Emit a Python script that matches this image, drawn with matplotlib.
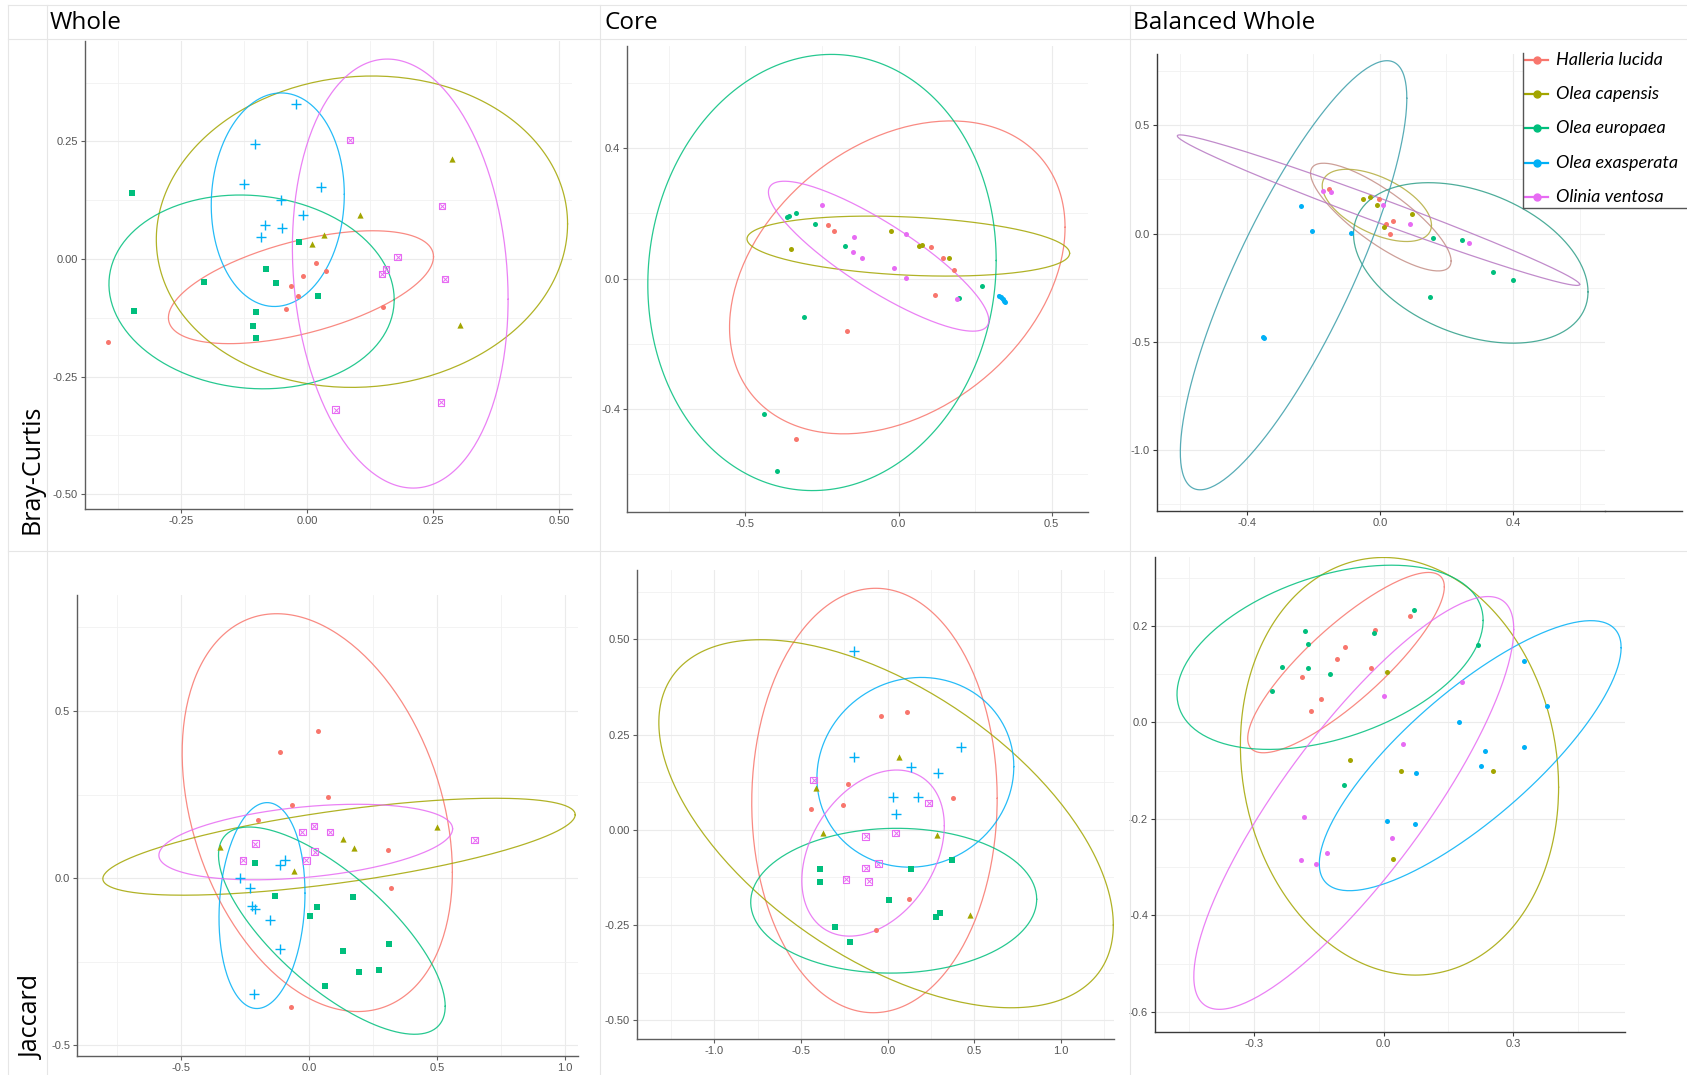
import numpy as np
import matplotlib.pyplot as plt
from matplotlib.lines import Line2D

SPECIES = ['Halleria lucida', 'Olea capensis', 'Olea europaea',
           'Olea exasperata', 'Olinia ventosa']
COLORS = ['#F8766D', '#A3A500', '#00BF7D', '#00B0F6', '#E76BF3']
BAL_ELL_COLORS = ['#C48E86', '#B3AC3C', '#2E9E88', '#3B9EAA', '#B677C2']

# one inner list per species, same order as SPECIES
BC_WHOLE_X = [[-0.394, 0.017, 0.038, -0.007, -0.032, -0.017, -0.041, 0.151],
              [0.287, 0.106, 0.034, 0.009, 0.304],
              [-0.347, -0.344, -0.204, -0.081, -0.062, -0.015, 0.021, -0.102, -0.107, -0.101],
              [-0.022, -0.104, -0.126, 0.028, -0.052, -0.007, -0.084, -0.050, -0.092],
              [0.085, 0.268, 0.180, 0.157, 0.149, 0.274, 0.057, 0.266]]
BC_WHOLE_Y = [[-0.177, -0.009, -0.025, -0.036, -0.057, -0.079, -0.106, -0.102],
              [0.213, 0.093, 0.052, 0.031, -0.141],
              [0.140, -0.110, -0.048, -0.021, -0.050, 0.037, -0.079, -0.112, -0.142, -0.169],
              [0.329, 0.244, 0.159, 0.154, 0.125, 0.093, 0.072, 0.065, 0.047],
              [0.253, 0.113, 0.004, -0.022, -0.032, -0.043, -0.320, -0.305]]

BC_CORE_X = [[-0.229, -0.212, 0.106, 0.145, 0.181, 0.118, -0.167, -0.336],
             [-0.350, -0.023, 0.066, 0.076, 0.165],
             [-0.365, -0.359, -0.336, -0.274, -0.175, -0.308, 0.272, 0.196, -0.439, -0.396],
             [0.328, 0.335, 0.341, 0.345, 0.347],
             [-0.251, 0.023, -0.145, -0.150, -0.119, -0.016, 0.026, 0.192]]
BC_CORE_Y = [[0.166, 0.146, 0.096, 0.062, 0.026, -0.051, -0.159, -0.493],
             [0.090, 0.146, 0.099, 0.102, 0.065],
             [0.189, 0.193, 0.201, 0.169, 0.099, -0.117, -0.022, -0.059, -0.414, -0.589],
             [-0.052, -0.056, -0.061, -0.067, -0.070],
             [0.225, 0.137, 0.127, 0.083, 0.064, 0.033, 0.001, -0.062]]

BC_BAL_X = [[-0.154, -0.002, 0.019, 0.041, 0.032],
            [-0.050, -0.030, -0.010, 0.012, 0.097],
            [0.160, 0.246, 0.341, 0.401, 0.152],
            [-0.237, -0.205, -0.088, -0.351, -0.347],
            [-0.170, -0.146, 0.009, 0.091, 0.267]]
BC_BAL_Y = [[0.205, 0.158, 0.043, 0.059, -0.003],
            [0.161, 0.168, 0.131, 0.031, 0.088],
            [-0.019, -0.031, -0.178, -0.213, -0.294],
            [0.128, 0.012, 0.002, -0.479, -0.484],
            [0.198, 0.190, 0.134, 0.042, -0.042]]

JAC_WHOLE_X = [[0.033, -0.115, 0.072, -0.066, -0.199, 0.308, 0.319, -0.070],
               [-0.351, -0.058, 0.133, 0.174, 0.498],
               [-0.212, -0.133, 0.172, 0.030, 0.003, 0.311, 0.132, 0.272, 0.196, 0.060],
               [-0.097, -0.115, -0.271, -0.230, -0.223, -0.212, -0.154, -0.115, -0.217],
               [0.018, -0.027, 0.081, -0.211, 0.021, -0.260, -0.012, 0.646]]
JAC_WHOLE_Y = [[0.440, 0.377, 0.244, 0.220, 0.175, 0.083, -0.029, -0.386],
               [0.094, 0.022, 0.116, 0.089, 0.152],
               [0.044, -0.052, -0.057, -0.085, -0.114, -0.196, -0.218, -0.276, -0.280, -0.324],
               [0.055, 0.038, 0.000, -0.028, -0.084, -0.091, -0.125, -0.213, -0.346],
               [0.156, 0.138, 0.138, 0.103, 0.079, 0.053, 0.053, 0.114]]

JAC_CORE_X = [[-0.038, 0.111, -0.230, -0.259, -0.442, 0.375, 0.120, -0.070],
              [0.066, -0.415, -0.374, 0.286, 0.473],
              [-0.394, -0.394, 0.134, 0.369, 0.007, -0.307, -0.220, 0.280, 0.303],
              [-0.197, -0.197, 0.425, 0.132, 0.290, 0.030, 0.174, 0.049],
              [-0.428, 0.236, -0.128, 0.045, -0.055, -0.128, -0.240, -0.111]]
JAC_CORE_Y = [[0.300, 0.309, 0.121, 0.064, 0.055, 0.083, -0.182, -0.263],
              [0.192, 0.109, -0.008, -0.014, -0.224],
              [-0.104, -0.137, -0.104, -0.078, -0.183, -0.255, -0.295, -0.228, -0.217],
              [0.470, 0.192, 0.218, 0.165, 0.149, 0.087, 0.087, 0.041],
              [0.131, 0.071, -0.017, -0.008, -0.089, -0.100, -0.130, -0.135]]

JAC_BAL_X = [[-0.019, 0.062, -0.089, -0.108, -0.030, -0.190, -0.144, -0.169],
             [0.009, -0.078, 0.040, 0.255, 0.022],
             [0.071, -0.183, -0.175, -0.022, -0.235, -0.175, -0.124, -0.258, 0.219, -0.092],
             [0.326, 0.378, 0.174, 0.326, 0.236, 0.226, 0.075, 0.009, 0.073],
             [0.181, 0.001, 0.044, -0.185, 0.020, -0.132, -0.192, -0.156]]
JAC_BAL_Y = [[0.192, 0.220, 0.156, 0.132, 0.112, 0.094, 0.048, 0.024],
             [0.105, -0.078, -0.100, -0.100, -0.283],
             [0.234, 0.190, 0.163, 0.186, 0.115, 0.112, 0.100, 0.066, 0.161, -0.129],
             [0.127, 0.034, 0.000, -0.052, -0.059, -0.091, -0.105, -0.205, -0.210],
             [0.083, 0.055, -0.045, -0.197, -0.240, -0.271, -0.286, -0.293]]

# ellipses: centre x, centre y, half width, half height, tilt (rho)
BC_WHOLE_ELL = [(-0.012, -0.060, 0.263, 0.120, 0.54),
                (0.109, 0.058, 0.408, 0.331, 0.05),
                (-0.110, -0.070, 0.283, 0.206, -0.08),
                (-0.058, 0.126, 0.132, 0.227, 0.05),
                (0.185, -0.031, 0.214, 0.456, -0.12)]
BC_CORE_ELL = [(-0.004, 0.004, 0.548, 0.480, 0.32),
               (0.032, 0.100, 0.527, 0.092, -0.24),
               (-0.250, 0.019, 0.569, 0.669, 0.055),
               (0.337, -0.061, 0.012, 0.011, -0.9),
               (-0.065, 0.069, 0.360, 0.230, -0.855)]
BC_BAL_ELL = [(0.003, 0.076, 0.211, 0.249, -0.815),
              (-0.009, 0.130, 0.164, 0.167, -0.545),
              (0.273, -0.136, 0.352, 0.371, -0.36),
              (-0.259, -0.193, 0.340, 0.992, 0.825),
              (-0.004, 0.108, 0.604, 0.348, -0.986)]
JAC_WHOLE_ELL = [(0.031, 0.196, 0.528, 0.595, -0.30),
                 (0.116, 0.094, 0.923, 0.145, 0.66),
                 (0.088, -0.157, 0.443, 0.310, -0.73),
                 (-0.185, -0.082, 0.168, 0.308, 0.12),
                 (-0.014, 0.108, 0.574, 0.113, 0.35)]
JAC_CORE_ELL = [(-0.077, 0.077, 0.708, 0.557, 0.01),
                (-0.010, 0.016, 1.311, 0.483, -0.55),
                (0.034, -0.186, 0.825, 0.190, 0.02),
                (0.159, 0.151, 0.568, 0.249, 0.06),
                (-0.085, -0.061, 0.411, 0.218, 0.33)]
JAC_BAL_ELL = [(-0.087, 0.124, 0.228, 0.187, 0.84),
               (0.037, -0.091, 0.369, 0.433, -0.10),
               (-0.124, 0.135, 0.355, 0.191, 0.40),
               (0.201, -0.069, 0.350, 0.280, 0.80),
               (-0.069, -0.167, 0.371, 0.428, 0.84)]

# tick values and labels
BC_WHOLE_XT = [-0.25, 0.0, 0.25, 0.5]
BC_WHOLE_XL = ['-0.25', '0.00', '0.25', '0.50']
BC_WHOLE_YT = [-0.5, -0.25, 0.0, 0.25]
BC_WHOLE_YL = ['-0.50', '-0.25', '0.00', '0.25']
BC_CORE_XT = [-0.5, 0.0, 0.5]
BC_CORE_XL = ['-0.5', '0.0', '0.5']
BC_CORE_YT = [-0.4, 0.0, 0.4]
BC_CORE_YL = ['-0.4', '0.0', '0.4']
BC_BAL_XT = [-0.4, 0.0, 0.4]
BC_BAL_XL = ['-0.4', '0.0', '0.4']
BC_BAL_YT = [-1.0, -0.5, 0.0, 0.5]
BC_BAL_YL = ['-1.0', '-0.5', '0.0', '0.5']
JAC_WHOLE_XT = [-0.5, 0.0, 0.5, 1.0]
JAC_WHOLE_XL = ['-0.5', '0.0', '0.5', '1.0']
JAC_WHOLE_YT = [-0.5, 0.0, 0.5]
JAC_WHOLE_YL = ['-0.5', '0.0', '0.5']
JAC_CORE_XT = [-1.0, -0.5, 0.0, 0.5, 1.0]
JAC_CORE_XL = ['-1.0', '-0.5', '0.0', '0.5', '1.0']
JAC_CORE_YT = [-0.5, -0.25, 0.0, 0.25, 0.5]
JAC_CORE_YL = ['-0.50', '-0.25', '0.00', '0.25', '0.50']
JAC_BAL_XT = [-0.3, 0.0, 0.3]
JAC_BAL_XL = ['-0.3', '0.0', '0.3']
JAC_BAL_YT = [-0.6, -0.4, -0.2, 0.0, 0.2]
JAC_BAL_YL = ['-0.6', '-0.4', '-0.2', '0.0', '0.2']

COLUMNS = ['Whole', 'Core', 'Balanced Whole']
ROWS = ['Bray-Curtis', 'Jaccard']

W, H = 1687, 1075
SHAPES = ['o', '^', 's', '+', 'boxx']
DOTS = ['o'] * 5
TICK_FONT = ['Liberation Sans Narrow', 'Liberation Sans', 'DejaVu Sans']
TITLE_FONT = ['Open Sans', 'DejaVu Sans']


def minor_between(ticks):
    '''minor grid positions halfway between (and outside) the major ticks'''
    step = ticks[1] - ticks[0]
    return [t + step / 2 for t in [ticks[0] - step] + list(ticks)]


def add_panel(fig, box):
    l, t, r, b = box
    return fig.add_axes([l / W, 1 - b / H, (r - l) / W, (b - t) / H])


def draw_ellipse(ax, params, color):
    cx, cy, wx, wy, rho = params
    t = np.linspace(0, 2 * np.pi, 240)
    x = cx + wx * np.cos(t)
    y = cy + wy * (rho * np.cos(t) + np.sqrt(1 - rho ** 2) * np.sin(t))
    ax.plot(x, y, color=color, lw=0.9, alpha=0.85, zorder=2)


def draw_points(ax, xs, ys, shapes):
    for i in range(len(SPECIES)):
        c = COLORS[i]
        m = shapes[i]
        if m == 'boxx':
            ax.scatter(xs[i], ys[i], marker='s', s=22, facecolors='none',
                       edgecolors=c, linewidths=0.8, zorder=3)
            ax.scatter(xs[i], ys[i], marker='x', s=10, color=c,
                       linewidths=0.7, zorder=3)
        elif m == '+':
            ax.scatter(xs[i], ys[i], marker='+', s=42, color=c,
                       linewidths=1.0, zorder=3)
        elif m == '^':
            ax.scatter(xs[i], ys[i], marker='^', s=20, color=c,
                       linewidths=0, zorder=3)
        elif m == 's':
            ax.scatter(xs[i], ys[i], marker='s', s=16, color=c,
                       linewidths=0, zorder=3)
        else:
            ax.scatter(xs[i], ys[i], marker='o', s=13, color=c,
                       linewidths=0, zorder=3)


def style_panel(ax, xlim, ylim, xt, xl, yt, yl, spine):
    ax.set_xticks(xt)
    ax.set_xticklabels(xl, family=TICK_FONT)
    ax.set_yticks(yt)
    ax.set_yticklabels(yl, family=TICK_FONT)
    ax.set_xticks(minor_between(xt), minor=True)
    ax.set_yticks(minor_between(yt), minor=True)
    # limits last, setting ticks can widen the view
    ax.set_xlim(xlim)
    ax.set_ylim(ylim)
    ax.grid(which='major', color='#EBEBEB', lw=0.8)
    ax.grid(which='minor', color='#F1F1F1', lw=0.6)
    ax.set_axisbelow(True)
    for s in ['top', 'right']:
        ax.spines[s].set_visible(False)
    for s in ['left', 'bottom']:
        ax.spines[s].set_color(spine)
        ax.spines[s].set_linewidth(1.0)
    ax.tick_params(which='major', length=3, width=0.8, color=spine,
                   labelsize=8, labelcolor='#555555', pad=2)
    ax.tick_params(which='minor', length=0)


def main():
    '''six ordination panels: two distances by three data sets'''
    fig = plt.figure(figsize=(W / 100, H / 100), dpi=100)
    fig.patch.set_facecolor('white')

    # light table lines of the composite
    for y in [5, 39, 551]:
        fig.add_artist(Line2D([8 / W, 1], [1 - y / H, 1 - y / H],
                              color='#E6E6E6', lw=0.8))
    for x in [8, 47, 600, 1130]:
        fig.add_artist(Line2D([x / W, x / W], [1 - 5 / H, 0],
                              color='#E6E6E6', lw=0.8))

    panels = [
        ((85, 41, 572, 509), (-0.4405, 0.5258), (-0.5315, 0.4634),
         BC_WHOLE_X, BC_WHOLE_Y, BC_WHOLE_ELL, SHAPES, COLORS,
         BC_WHOLE_XT, BC_WHOLE_XL, BC_WHOLE_YT, BC_WHOLE_YL, '#5E5E5E'),
        ((627, 46, 1088, 512), (-0.887, 0.619), (-0.7157, 0.7138),
         BC_CORE_X, BC_CORE_Y, BC_CORE_ELL, DOTS, COLORS,
         BC_CORE_XT, BC_CORE_XL, BC_CORE_YT, BC_CORE_YL, '#5E5E5E'),
        ((1157, 54, 1605, 511), (-0.669, 0.676), (-1.283, 0.83),
         BC_BAL_X, BC_BAL_Y, BC_BAL_ELL, DOTS, BAL_ELL_COLORS,
         BC_BAL_XT, BC_BAL_XL, BC_BAL_YT, BC_BAL_YL, '#3A3A3A'),
        ((77, 595, 578, 1056), (-0.908, 1.05), (-0.532, 0.847),
         JAC_WHOLE_X, JAC_WHOLE_Y, JAC_WHOLE_ELL, SHAPES, COLORS,
         JAC_WHOLE_XT, JAC_WHOLE_XL, JAC_WHOLE_YT, JAC_WHOLE_YL, '#5E5E5E'),
        ((637, 570, 1114, 1039), (-1.447, 1.305), (-0.549, 0.682),
         JAC_CORE_X, JAC_CORE_Y, JAC_CORE_ELL, SHAPES, COLORS,
         JAC_CORE_XT, JAC_CORE_XL, JAC_CORE_YT, JAC_CORE_YL, '#5E5E5E'),
        ((1155, 557, 1625, 1032), (-0.53, 0.56), (-0.642, 0.343),
         JAC_BAL_X, JAC_BAL_Y, JAC_BAL_ELL, DOTS, COLORS,
         JAC_BAL_XT, JAC_BAL_XL, JAC_BAL_YT, JAC_BAL_YL, '#3A3A3A'),
    ]

    for (box, xlim, ylim, xs, ys, ells, shapes, ecol,
         xt, xl, yt, yl, spine) in panels:
        ax = add_panel(fig, box)
        for i, e in enumerate(ells):
            draw_ellipse(ax, e, ecol[i])
        draw_points(ax, xs, ys, shapes)
        style_panel(ax, xlim, ylim, xt, xl, yt, yl, spine)

    # bottom axis line of the balanced panel runs on under the legend
    fig.add_artist(Line2D([1605 / W, 1682 / W], [1 - 511 / H, 1 - 511 / H],
                          color='#3A3A3A', lw=1.0))

    # column headers and row labels
    for name, x in zip(COLUMNS, [50, 604, 1133]):
        fig.text(x / W, 1 - 23 / H, name, fontsize=17.5, family=TITLE_FONT,
                 ha='left', va='center')
    for name, y in zip(ROWS, [469, 1017]):
        fig.text(32 / W, 1 - y / H, name, fontsize=18, family=TITLE_FONT,
                 rotation=90, ha='center', va='center')

    # legend drawn in its own small axes
    lg = add_panel(fig, (1523, 53, 1687, 208))
    lg.set_xlim(0, 1)
    lg.set_ylim(len(SPECIES) - 0.68, -0.2)
    for i, name in enumerate(SPECIES):
        lg.plot([0.015, 0.15], [i, i], color=COLORS[i], lw=1.6)
        lg.plot([0.085], [i], marker='o', ms=5, color=COLORS[i])
        lg.text(0.2, i, name, fontsize=13, style='italic',
                family=['Lato', 'DejaVu Sans'], va='center', ha='left')
    lg.set_xticks([])
    lg.set_yticks([])
    for s in ['top', 'right']:
        lg.spines[s].set_visible(False)
    for s in ['left', 'bottom']:
        lg.spines[s].set_color('#555555')
        lg.spines[s].set_linewidth(1.0)

    fig.savefig('out.png', dpi=100, facecolor='white')


if __name__ == '__main__':
    main()
